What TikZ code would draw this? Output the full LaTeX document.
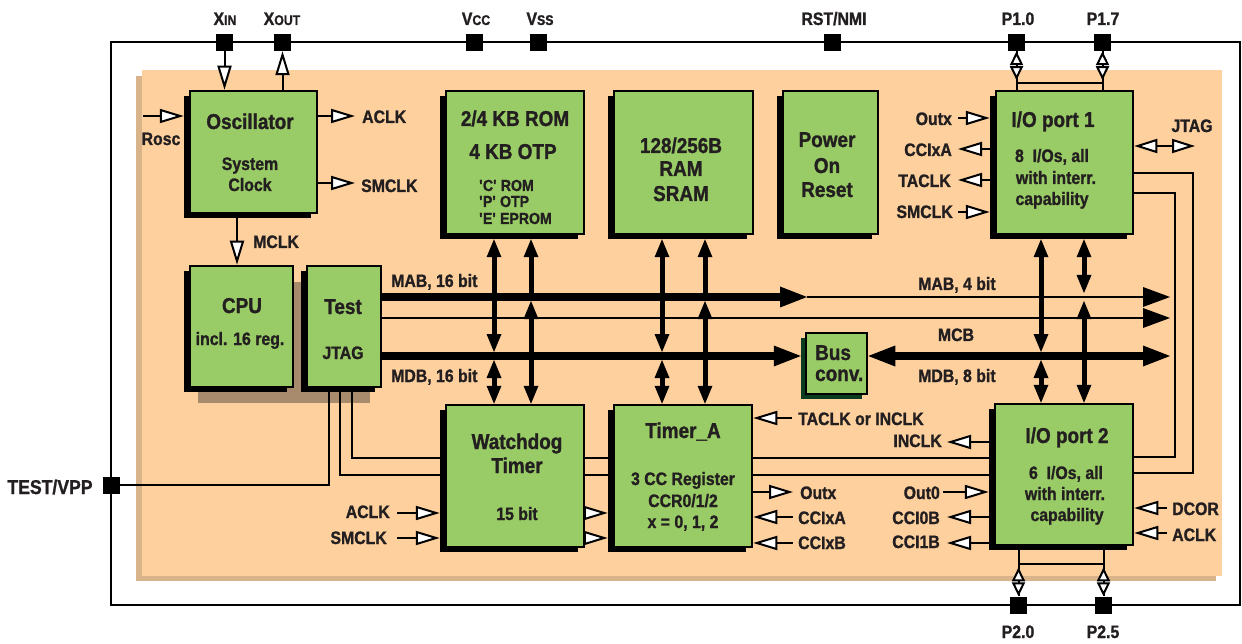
\documentclass[tikz,border=0pt]{standalone}
\usepackage{fontspec}
\setmainfont{Liberation Sans}[FakeStretch=0.88,BoldFeatures={FakeBold=1.2}]
\usetikzlibrary{arrows.meta,shadows,calc}
\definecolor{grn}{HTML}{99CC66}
\definecolor{orng}{HTML}{FDD09E}
\definecolor{tanc}{HTML}{D9B48B}
\definecolor{brn}{HTML}{A88A6C}
\definecolor{dkg}{HTML}{0B3B1F}
\definecolor{txt}{HTML}{231F20}
\tikzset{
  ln/.style={line width=2pt},
  oa/.style={ln,-{Triangle[fill=white,length=24pt,width=14pt]}},
  oab/.style={ln,{Triangle[fill=white,length=23pt,width=14pt]}-{Triangle[fill=white,length=23pt,width=14pt]}},
  dup/.style={ln,-{Triangle[fill=white,length=14pt,width=13pt]}},
  vb/.style={line width=5pt,-{Triangle[length=18pt,width=15pt,line width=0pt]}},
  vbb/.style={line width=5pt,{Triangle[length=18pt,width=15pt,line width=0pt]}-{Triangle[length=18pt,width=15pt,line width=0pt]}},
  hb/.style={line width=8pt,-{Triangle[length=27pt,width=21pt,line width=0pt]}},
  hbb/.style={line width=8pt,{Triangle[length=27pt,width=21pt,line width=0pt]}-{Triangle[length=27pt,width=21pt,line width=0pt]}},
  tb/.style={ln,-{Triangle[length=27pt,width=20pt,line width=0pt]}},
  blkbase/.style={draw=black,line width=2.5pt,fill=grn,inner sep=0pt},
  blk/.style={blkbase,drop shadow={shadow xshift=-6pt,shadow yshift=-5pt,fill=black,opacity=1}},
  blkg/.style={blkbase,drop shadow={shadow xshift=-5pt,shadow yshift=-5pt,fill=dkg,opacity=1}},
  pinsq/.style={fill=black,inner sep=0pt,minimum size=17pt},
  lb/.style={font=\bfseries\fontsize{18}{20}\selectfont,text=txt,inner sep=0pt,anchor=base},
  lbw/.style={lb,anchor=base west},
  lbe/.style={lb,anchor=base east},
  tt/.style={font=\bfseries\fontsize{21.5}{24}\selectfont,text=txt,inner sep=0pt,anchor=base},
  sm/.style={font=\bfseries\fontsize{16}{18}\selectfont,text=txt,inner sep=0pt,anchor=base west},
}
\newcommand\smc[1]{{\fontsize{14}{14}\selectfont #1}}
\begin{document}
\begin{tikzpicture}[x=1pt,y=-1pt]
\useasboundingbox (0,0) rectangle (1242,644);
\fill[white] (0,0) rectangle (1242,644);
% backgrounds
\fill[tanc] (136,76) rectangle (1216,581);
\fill[orng] (142,70) rectangle (1222,576);
\draw[line width=2.2pt] (111,42) rectangle (1240,605);
\fill[brn] (198,282) rectangle (370,403);

% blocks
\node[blk,minimum width=127pt,minimum height=122pt] (osc) at (253.5,152) {};
\node[blk,minimum width=103pt,minimum height=121pt] (cpu) at (241.5,326.5) {};
\node[blk,minimum width=74pt,minimum height=121pt] (test) at (344,326.5) {};
\node[blk,minimum width=138pt,minimum height=143pt] (rom) at (515,162.5) {};
\node[blk,minimum width=139pt,minimum height=143pt] (ram) at (683.5,162.5) {};
\node[blk,minimum width=95pt,minimum height=143pt] (por) at (830.5,162.5) {};
\node[blk,minimum width=137pt,minimum height=143pt] (io1) at (1064.5,162.5) {};
\node[blkg,minimum width=61pt,minimum height=61pt] (bus) at (836.5,363.5) {};
\node[blk,minimum width=138pt,minimum height=142pt] (wd) at (515,476) {};
\node[blk,minimum width=138pt,minimum height=142pt] (ta) at (683,476) {};
\node[blk,minimum width=138pt,minimum height=141pt] (io2) at (1064,474.5) {};

% block texts
\node[tt] (tosc1) at (250,129) {Oscillator};
\node[lb] (tosc2) at (250,170) {System};
\node[lb] (tosc3) at (250,191) {Clock};
\node[tt] (tcpu1) at (242,313) {CPU};
\node[lb] (tcpu2) at (240,345) {incl. 16 reg.};
\node[tt] (ttst1) at (343,314) {Test};
\node[lb] (ttst2) at (343,359) {JTAG};
\node[tt] (trom1) at (515,126) {2/4 KB ROM};
\node[tt] (trom2) at (513,159) {4 KB OTP};
\node[sm] (trom3) at (479,191) {\textquotesingle C\textquotesingle{} ROM};
\node[sm] (trom4) at (479,207) {\textquotesingle P\textquotesingle{} OTP};
\node[sm] (trom5) at (479,224) {\textquotesingle E\textquotesingle{} EPROM};
\node[tt] (tram1) at (681,153) {128/256B};
\node[tt] (tram2) at (681,176) {RAM};
\node[tt] (tram3) at (681,201) {SRAM};
\node[tt] (tpor1) at (827,147) {Power};
\node[tt] (tpor2) at (827,173) {On};
\node[tt] (tpor3) at (827,197) {Reset};
\node[tt] (tio11) at (1053,127) {I/O port 1};
\node[lb] (tio12) at (1052,162) {8~ I/Os, all};
\node[lb] (tio13) at (1056,184) {with interr.};
\node[lb] (tio14) at (1052,205) {capability};
\node[tt,anchor=base west] (tbus1) at (815,360) {Bus};
\node[tt,anchor=base west] (tbus2) at (815,381) {conv.};
\node[tt] (twd1) at (517,449) {Watchdog};
\node[tt] (twd2) at (517,473) {Timer};
\node[lb] (twd3) at (517,520) {15 bit};
\node[tt] (tta1) at (683,438) {Timer\_A};
\node[lb] (tta2) at (683,485) {3 CC Register};
\node[lb] (tta3) at (683,507) {CCR0/1/2};
\node[lb] (tta4) at (683,528) {x = 0, 1, 2};
\node[tt] (tio21) at (1067,443) {I/O port 2};
\node[lb] (tio22) at (1066,479) {6~ I/Os, all};
\node[lb] (tio23) at (1065,500) {with interr.};
\node[lb] (tio24) at (1067,521) {capability};

% pins
\node[pinsq] (xin) at (224.5,42.5) {};
\node[pinsq] (xout) at (282.5,42.5) {};
\node[pinsq] (vcc) at (474.5,42.5) {};
\node[pinsq] (vss) at (538.5,42.5) {};
\node[pinsq] (rst) at (832.5,42.5) {};
\node[pinsq] (p10) at (1016.5,42.5) {};
\node[pinsq] (p17) at (1102.5,42.5) {};
\node[pinsq] (p20) at (1018.5,605) {};
\node[pinsq] (p25) at (1103.5,605) {};
\node[pinsq] (tvpp) at (111.5,485) {};

% pin labels
\node[lb] (lxin) at (225,25) {X\smc{IN}};
\node[lb] (lxout) at (282,25) {X\smc{OUT}};
\node[lb] (lvcc) at (476,25) {V\smc{CC}};
\node[lb] (lvss) at (540,25) {V\smc{SS}};
\node[lb] (lrst) at (834,25) {RST/NMI};
\node[lb] (lp10) at (1018,25) {P1.0};
\node[lb] (lp17) at (1103,25) {P1.7};
\node[lb] (lp20) at (1018,638) {P2.0};
\node[lb] (lp25) at (1103,638) {P2.5};
\node[lb,font=\bfseries\fontsize{20}{22}\selectfont] (ltv) at (50,494) {TEST/VPP};

% other labels
\node[lb] (lrosc) at (161,145) {Rosc};
\node[lbw] (laclk1) at (362,123) {ACLK};
\node[lbw] (lsmclk1) at (361,192) {SMCLK};
\node[lbw] (lmclk) at (253,248) {MCLK};
\node[lbw] (lmab16) at (391,287) {MAB, 16 bit};
\node[lbw] (lmdb16) at (391,382) {MDB, 16 bit};
\node[lbw] (lmab4) at (918,290) {MAB, 4 bit};
\node[lb] (lmcb) at (956,341) {MCB};
\node[lbw] (lmdb8) at (918,382) {MDB, 8 bit};
\node[lbe] (lq1) at (952,125) {Outx};
\node[lbe] (lq2) at (952,156) {CCIxA};
\node[lbe] (lq3) at (951,187) {TACLK};
\node[lbe] (lq4) at (953,218) {SMCLK};
\node[lb] (ljt) at (1192,132) {JTAG};
\node[lbw] (lr1) at (798,425) {TACLK or INCLK};
\node[lbw] (lr2) at (800,499) {Outx};
\node[lbw] (lr3) at (798,524) {CCIxA};
\node[lbw] (lr4) at (798,549) {CCIxB};
\node[lbe] (ls1) at (942,447) {INCLK};
\node[lbe] (ls2) at (940,499) {Out0};
\node[lbe] (ls3) at (940,524) {CCI0B};
\node[lbe] (ls4) at (940,548) {CCI1B};
\node[lbw] (ld1) at (1172,515) {DCOR};
\node[lbw] (ld2) at (1172,541) {ACLK};
\node[lbe] (lw1) at (390,518) {ACLK};
\node[lbe] (lw2) at (387,544) {SMCLK};

% coordinates
\coordinate (mab) at (0,297);
\coordinate (mid) at (0,318);
\coordinate (mdb) at (0,356);
\coordinate (v1) at (494,0);
\coordinate (v2) at (531,0);
\coordinate (v3) at (662,0);
\coordinate (v4) at (705,0);
\coordinate (v5) at (1041,0);
\coordinate (v6) at (1084,0);

% oscillator connections
\draw[oa] (xin.south) -- (osc.north -| xin);
\draw[oa] (osc.north -| xout) -- (xout.south);
\coordinate (rosc) at (143,116);
\draw[oa] (rosc) -- ($(osc.west |- rosc)+(-5,0)$);
\coordinate (ac1) at (355,116);
\draw[oa] (osc.east |- ac1) -- (ac1);
\coordinate (sm1) at (355,183);
\draw[oa] (osc.east |- sm1) -- (sm1);
\coordinate (mck) at (237,240);
\draw[oa] (osc.south -| mck) -- (cpu.north -| mck);

% vertical bus connections
\draw[vbb] ($(rom.south -| v1)+(0,4)$) -- ($(v1 |- mdb)+(0,-4)$);
\draw[vbb] ($(v1 |- mdb)+(0,4)$) -- (wd.north -| v1);
\draw[vb] (v2 |- mab) -- ($(rom.south -| v2)+(0,4)$);
\draw[vbb] ($(v2 |- mab)+(0,4)$) -- (wd.north -| v2);
\draw[vbb] ($(ram.south -| v3)+(0,4)$) -- ($(v3 |- mdb)+(0,-4)$);
\draw[vbb] ($(v3 |- mdb)+(0,4)$) -- (ta.north -| v3);
\draw[vb] (v4 |- mab) -- ($(ram.south -| v4)+(0,4)$);
\draw[vbb] ($(v4 |- mab)+(0,4)$) -- (ta.north -| v4);
\draw[vbb] ($(io1.south -| v5)+(0,4)$) -- ($(v5 |- mdb)+(0,-4)$);
\draw[vbb] ($(v5 |- mdb)+(0,4)$) -- (io2.north -| v5);
\draw[vbb] ($(io1.south -| v6)+(0,4)$) -- ($(v6 |- mab)+(0,-4)$);
\draw[vbb] ($(v6 |- mab)+(0,4)$) -- (io2.north -| v6);

% horizontal buses
\coordinate (mabend) at (807,297);
\coordinate (e1) at (1170,297);
\coordinate (e2) at (1170,318);
\coordinate (e3) at (1170,356);
\draw[hb] (test.east |- mab) -- (mabend);
\draw[tb] (mabend) -- (e1);
\draw[tb] (test.east |- mid) -- (e2);
\draw[hb] (test.east |- mdb) -- ($(bus.west |- mdb)+(-4,0)$);
\draw[hbb] (bus.east |- mdb) -- (e3);

% test / jtag lines
\coordinate (t1) at (329,0);
\coordinate (t2) at (340,0);
\coordinate (t3) at (352,0);
\coordinate (j1) at (0,458);
\coordinate (j2) at (0,475);
\draw[ln] (test.south -| t3) |- (wd.west |- j1);
\draw[ln] (test.south -| t2) |- (wd.west |- j2);
\draw[ln] (test.south -| t1) |- (tvpp.east);
\draw[ln] (wd.east |- j1) -- (ta.west |- j1);
\draw[ln] (wd.east |- j2) -- (ta.west |- j2);
\draw[ln] (ta.east |- j1) -- (io2.west |- j1);
\draw[ln] (ta.east |- j2) -- (io2.west |- j2);

% right loops
\coordinate (lp1) at (1193,173);
\coordinate (lp2) at (1193,473);
\coordinate (lp3) at (1175,193);
\coordinate (lp4) at (1175,457);
\draw[ln] (io1.east |- lp1) -- (lp1) -- (lp2) -- (io2.east |- lp2);
\draw[ln] (io1.east |- lp3) -- (lp3) -- (lp4) -- (io2.east |- lp4);

% port pins
\coordinate (bar1) at (0,83);
\coordinate (bar2) at (0,564);
\draw[ln] (p10.south) -- (io1.north -| p10);
\draw[ln] (p17.south) -- (io1.north -| p17);
\draw[ln] (p10 |- bar1) -- (p17 |- bar1);
\draw[dup] ($(p10.south)+(0,14)$) -- (p10.south);
\draw[dup] ($(p10.south)+(0,14)$) -- ($(p10.south)+(0,29)$);
\draw[dup] ($(p17.south)+(0,14)$) -- (p17.south);
\draw[dup] ($(p17.south)+(0,14)$) -- ($(p17.south)+(0,29)$);
\draw[ln] ($(io2.south -| p20)+(0,4)$) -- (p20.north);
\draw[ln] ($(io2.south -| p25)+(0,4)$) -- (p25.north);
\draw[ln] (p20 |- bar2) -- (p25 |- bar2);
\draw[dup] ($(p20.north)+(0,-14)$) -- (p20.north);
\draw[dup] ($(p20.north)+(0,-14)$) -- ($(p20.north)+(0,-29)$);
\draw[dup] ($(p25.north)+(0,-14)$) -- (p25.north);
\draw[dup] ($(p25.north)+(0,-14)$) -- ($(p25.north)+(0,-29)$);

% I/O port 1 signals
\coordinate (q1) at (958,118);
\coordinate (q2) at (958,149);
\coordinate (q3) at (958,180);
\coordinate (q4) at (958,212);
\draw[oa] (q1) -- ($(io1.west |- q1)+(-5,0)$);
\draw[oa] ($(io1.west |- q2)+(-5,0)$) -- (q2);
\draw[oa] ($(io1.west |- q3)+(-5,0)$) -- (q3);
\draw[oa] (q4) -- ($(io1.west |- q4)+(-5,0)$);
\coordinate (jt) at (1195,146);
\draw[oab] (io1.east |- jt) -- (jt);

% Timer_A signals
\coordinate (r1) at (792,418);
\coordinate (r2) at (793,492);
\coordinate (r3) at (793,517);
\coordinate (r4) at (793,543);
\draw[oa] (r1) -- (ta.east |- r1);
\draw[oa] (ta.east |- r2) -- (r2);
\draw[oa] (r3) -- (ta.east |- r3);
\draw[oa] (r4) -- (ta.east |- r4);

% I/O port 2 signals
\coordinate (s1) at (947,442);
\coordinate (s2) at (943,492);
\coordinate (s3) at (947,517);
\coordinate (s4) at (947,543);
\draw[oa] ($(io2.west |- s1)+(-5,0)$) -- (s1);
\draw[oa] (s2) -- ($(io2.west |- s2)+(-5,0)$);
\draw[oa] ($(io2.west |- s3)+(-5,0)$) -- (s3);
\draw[oa] ($(io2.west |- s4)+(-5,0)$) -- (s4);
\coordinate (d1) at (1167,508);
\coordinate (d2) at (1167,533);
\draw[oa] (d1) -- (io2.east |- d1);
\draw[oa] (d2) -- (io2.east |- d2);

% Watchdog signals
\coordinate (w1) at (397,513);
\coordinate (w2) at (397,538);
\draw[oa] (w1) -- ($(wd.west |- w1)+(-5,0)$);
\draw[oa] (w2) -- ($(wd.west |- w2)+(-5,0)$);
\draw[oa] (wd.east |- w1) -- ($(ta.west |- w1)+(-5,0)$);
\draw[oa] (wd.east |- w2) -- ($(ta.west |- w2)+(-5,0)$);
\end{tikzpicture}
\end{document}
